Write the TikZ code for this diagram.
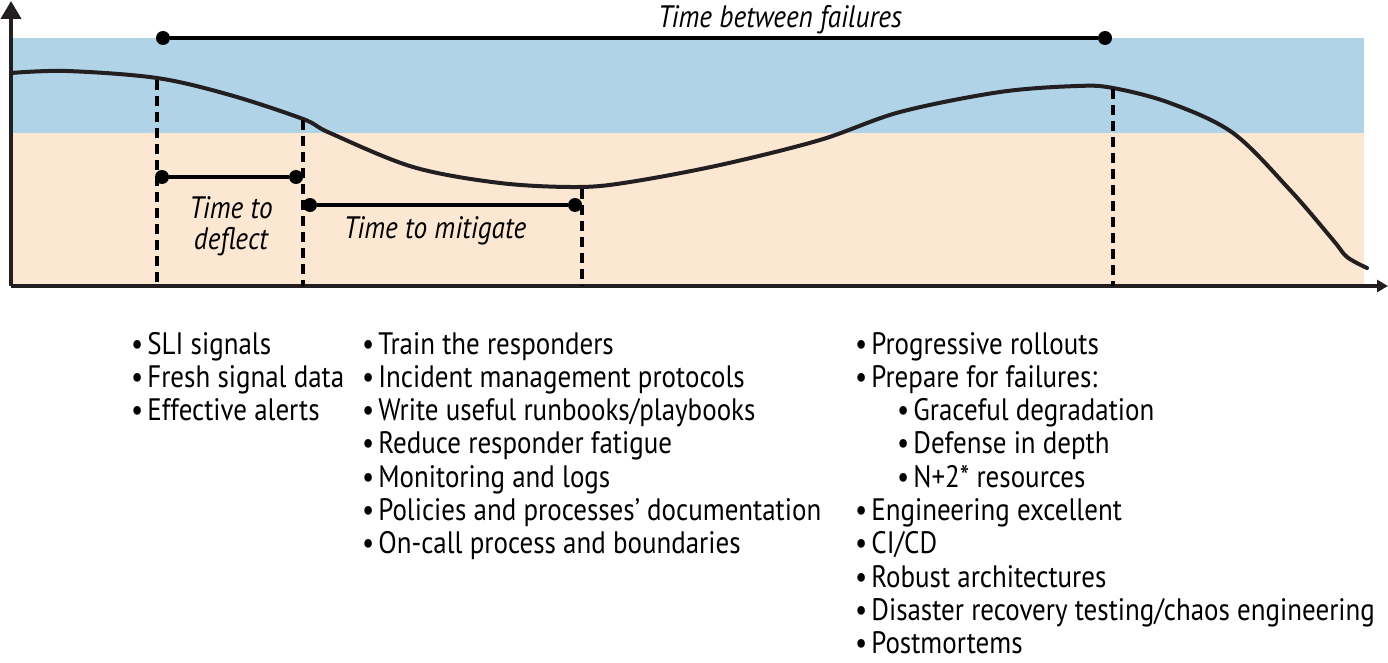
\documentclass[tikz,border=0pt]{standalone}
\usepackage{fontspec}
\setmainfont{PT Sans}[FakeStretch=0.87]
\usetikzlibrary{arrows.meta}
\definecolor{bandblue}{RGB}{176,211,232}
\definecolor{bandpeach}{RGB}{252,232,210}
\definecolor{ink}{RGB}{35,31,32}
\tikzset{
  axisline/.style={line width=4pt, draw=ink},
  curveline/.style={line width=4pt, draw=ink, line cap=round},
  guide/.style={line width=4pt, draw=black, dash pattern=on 10pt off 6pt},
  bar/.style={line width=3.5pt, draw=black},
  dot/.style={circle, fill=black, inner sep=0pt, minimum size=14pt},
  item/.style={anchor=base west, inner sep=0pt, font=\fontsize{31}{33}\selectfont},
  lbl/.style={anchor=base, inner sep=0pt, font=\fontsize{31}{33}\selectfont\itshape\addfontfeatures{FakeStretch=0.88}},
}
\begin{document}
\begin{tikzpicture}[x=1pt,y=-1pt]
\useasboundingbox (0,0) rectangle (1388,663);
% bands
\fill[bandblue] (11,38) rectangle (1364,133);
\fill[bandpeach] (11,133) rectangle (1364,286);
% axes
\coordinate (origin) at (11,286);
\coordinate (ytop) at (11,1);
\coordinate (xend) at (1388,286);
\draw[axisline, -{Triangle[length=18pt,width=20pt]}] (origin) -- (ytop);
\draw[axisline, -{Triangle[length=11pt,width=12pt]}] (origin) -- (xend);
% curve
\draw[curveline] plot[smooth, tension=0.55] coordinates {(11,73) (67,71) (157,78) (230,95) (303,119) (330,133) (413,167) (500,183) (578,187) (630,182) (720,165) (820,140) (900,112) (1000,92) (1077,86) (1113,88) (1170,103) (1233,133) (1290,190) (1333,240) (1347,257) (1367,268)};
% guides
\coordinate (g1t) at (157,80);  \coordinate (g1b) at (157,286);
\coordinate (g2t) at (303,120); \coordinate (g2b) at (303,286);
\coordinate (g3t) at (582,189); \coordinate (g3b) at (582,286);
\coordinate (g4t) at (1113,89); \coordinate (g4b) at (1113,286);
\draw[guide] (g1t) -- (g1b);
\draw[guide] (g2t) -- (g2b);
\draw[guide] (g3t) -- (g3b);
\draw[guide] (g4t) -- (g4b);
% bars
\node[dot] (tbfA) at (163,38) {};
\node[dot] (tbfB) at (1105,38) {};
\draw[bar] (tbfA) -- (tbfB);
\node[dot] (ttdA) at (162,177) {};
\node[dot] (ttdB) at (296,177) {};
\draw[bar] (ttdA) -- (ttdB);
\node[dot] (ttmA) at (310,205) {};
\node[dot] (ttmB) at (575,205) {};
\draw[bar] (ttmA) -- (ttmB);
% labels
\node[lbl] (ltbf) at (780,28) {Time between failures};
\node[lbl] (ltd1) at (231,218) {Time to};
\node[lbl] (ltd2) at (231,249) {deflect};
\node[lbl] (ltm) at (435,238) {Time to mitigate};
% lists
\foreach \t [count=\i] in {SLI signals, Fresh signal data, Effective alerts}
  \node[item] (ca\i) at (131,{354+33.3*(\i-1)}) {•\hspace{4pt}\t};
\foreach \t [count=\i] in {Train the responders, Incident management protocols, Write useful runbooks/playbooks, Reduce responder fatigue, Monitoring and logs, Policies and processes’ documentation, On-call process and boundaries}
  \node[item] (cb\i) at (362,{354+33.3*(\i-1)}) {•\hspace{4pt}\t};
\foreach \ind/\t [count=\i] in {0/Progressive rollouts, 0/Prepare for failures:, 42/Graceful degradation, 42/Defense in depth, 42/N+2* resources, 0/Engineering excellent, 0/{CI/CD}, 0/Robust architectures, 0/{Disaster recovery testing/chaos engineering}, 0/Postmortems}
  \node[item] (cc\i) at ({855+\ind},{354+33.3*(\i-1)}) {•\hspace{4pt}\t};
\end{tikzpicture}
\end{document}
